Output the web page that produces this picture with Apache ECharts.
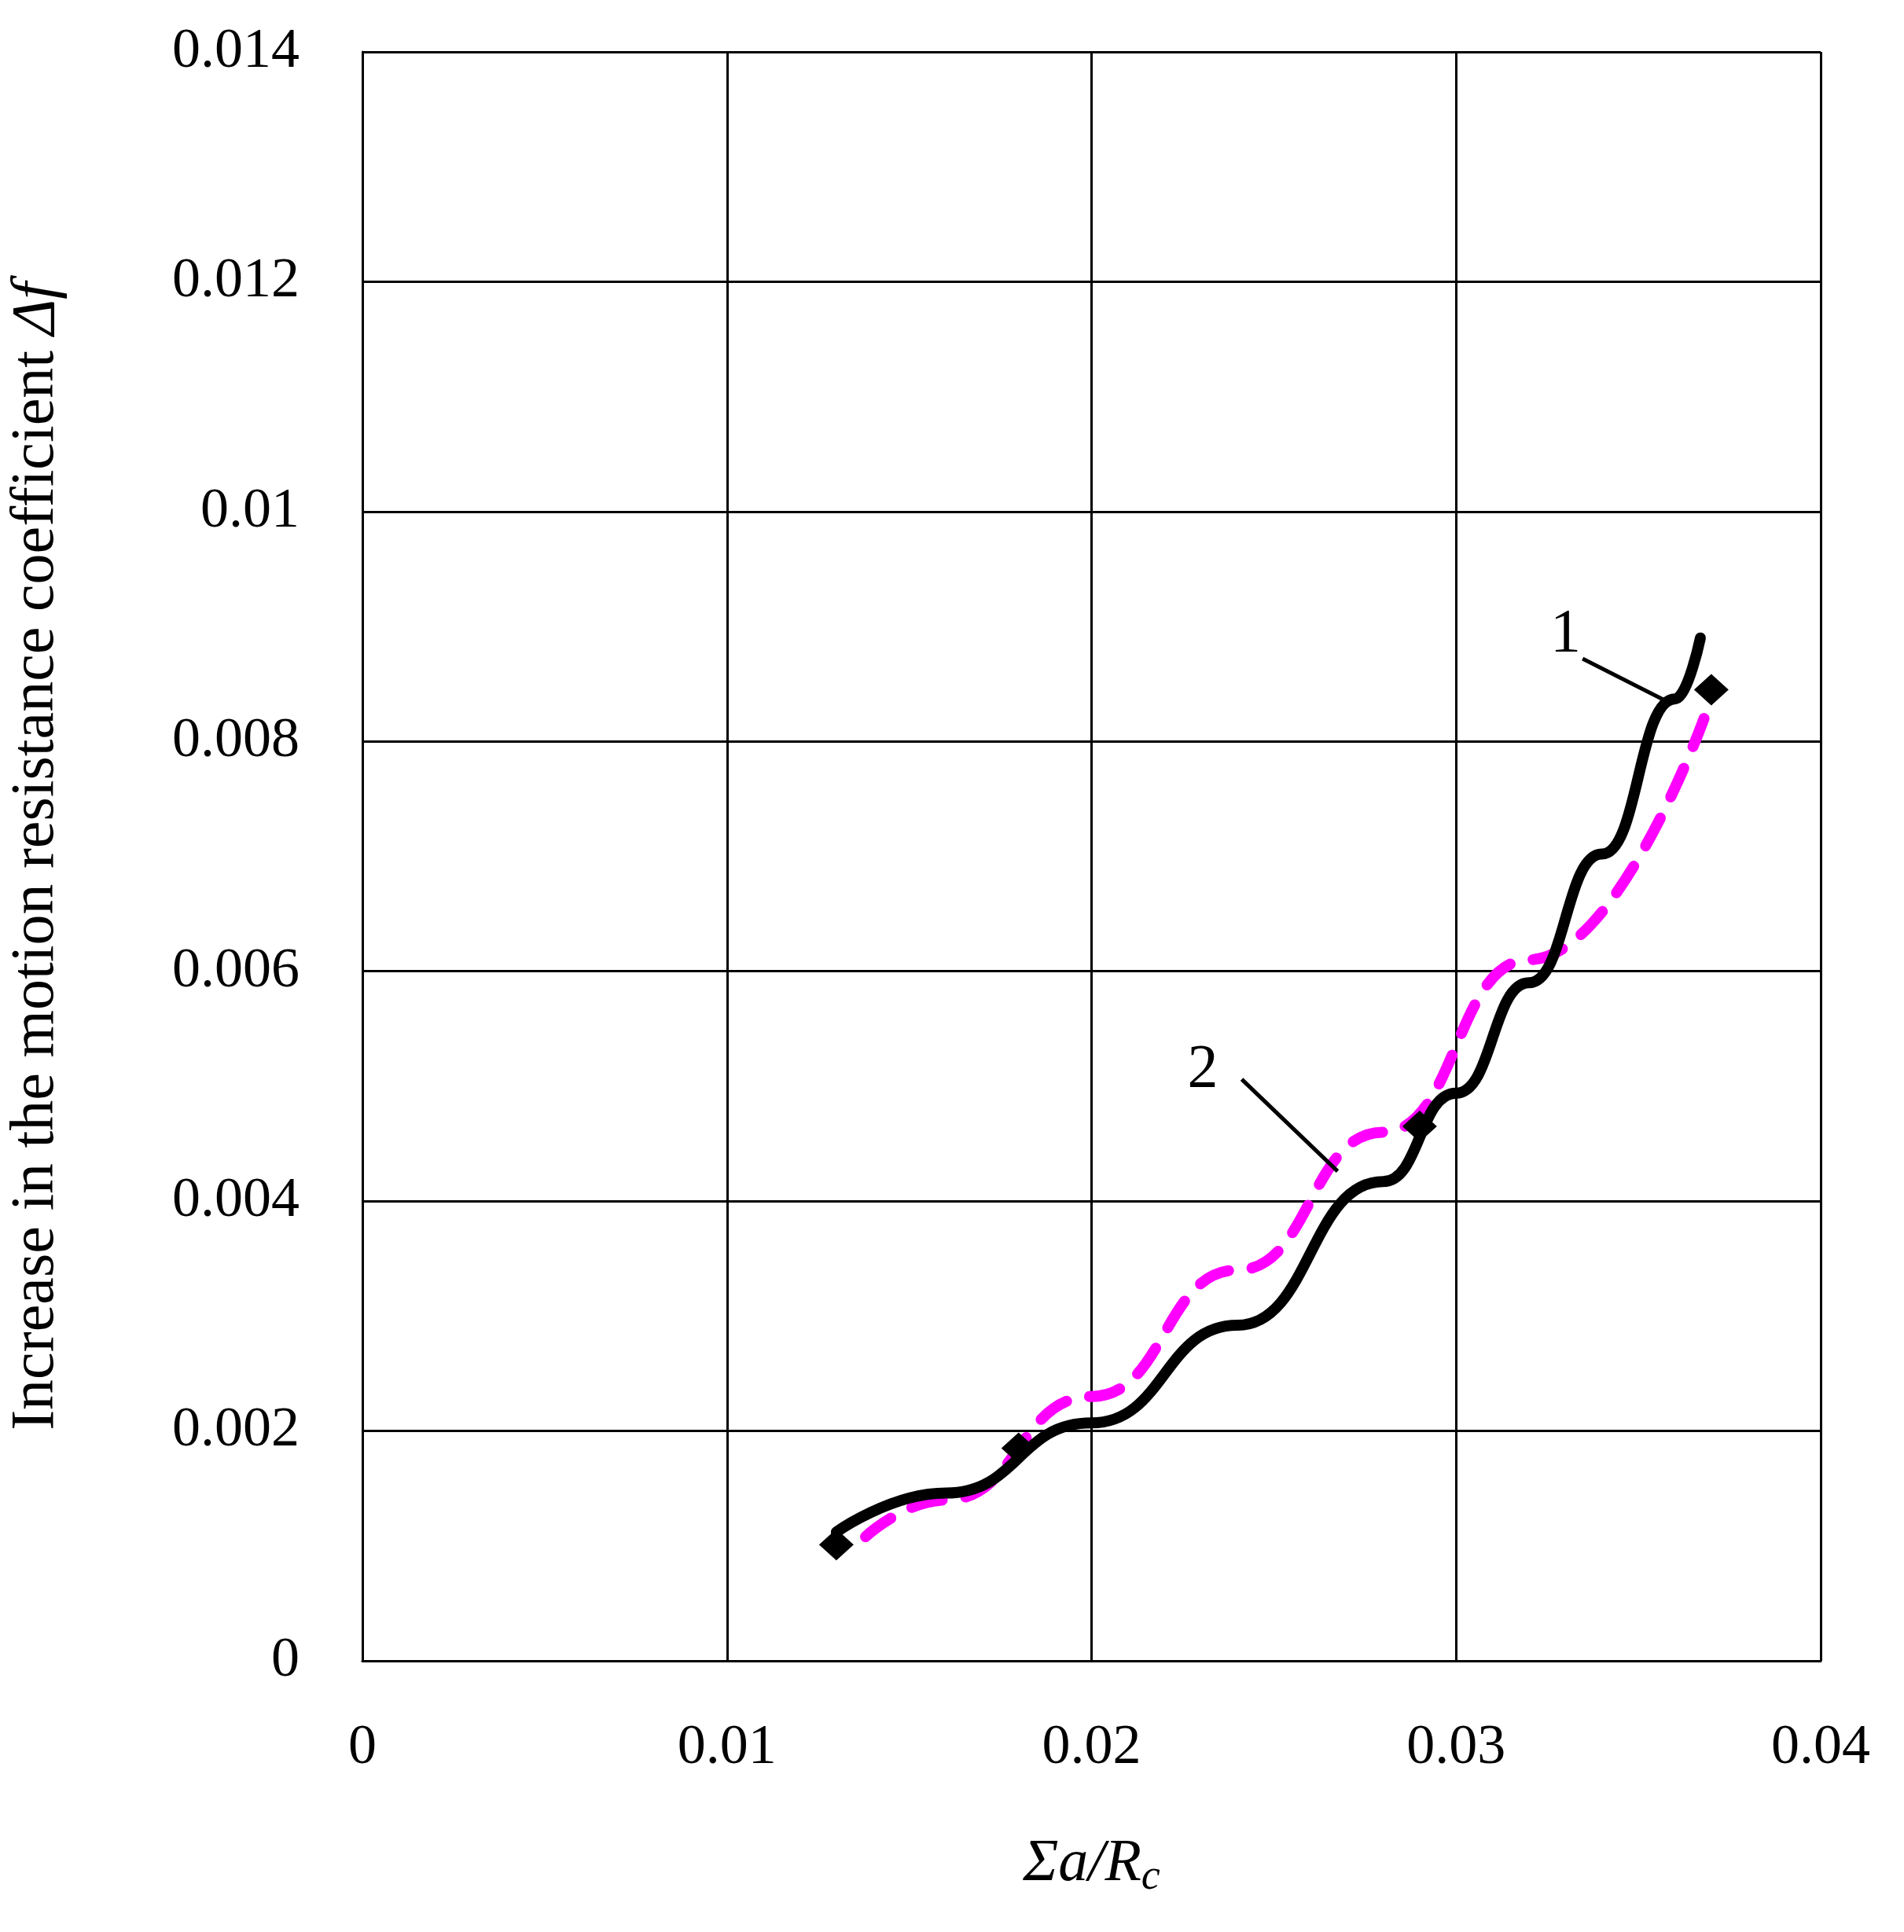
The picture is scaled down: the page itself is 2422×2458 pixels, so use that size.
<!DOCTYPE html>
<html lang="en">
<head>
<meta charset="UTF-8">
<title>Chart</title>
<style>
  html, body { margin: 0; padding: 0; background: #fff; }
  #main { width: 2422px; height: 2458px; }
</style>
<script src="https://cdn.jsdelivr.net/npm/echarts@6/dist/echarts.min.js"></script>
</head>
<body>
<div id="main"></div>
<script>
// measured points
var pointsX = [0.013, 0.018, 0.029, 0.037];
var pointsY = [0.00101, 0.00185, 0.00465, 0.00845];
// curve 1 (solid black)
var curve1X = [0.013, 0.016, 0.020, 0.024, 0.028, 0.030, 0.032, 0.034, 0.036, 0.0367];
var curve1Y = [0.00112, 0.00146, 0.00207, 0.00292, 0.00417, 0.00494, 0.0059, 0.00702, 0.00837, 0.0089];
// curve 2 (dashed magenta)
var curve2X = [0.0138, 0.016, 0.020, 0.024, 0.028, 0.032, 0.0368];
var curve2Y = [0.00108, 0.0014, 0.0023, 0.0034, 0.0046, 0.0061, 0.0082];
// labels with leader lines
var labelText = ['1', '2'];
var labelPos = [[0.0330, 0.00893], [0.02305, 0.00514]];
var leaders = [
  [[0.03347, 0.00872], [0.03583, 0.00834]],
  [[0.02412, 0.00506], [0.02675, 0.00426]]
];

function zip(xs, ys) { return xs.map(function (x, i) { return [x, ys[i]]; }); }

var font = 'Liberation Serif';
var series = [
  { type: 'line', data: zip(curve2X, curve2Y), smooth: true, smoothMonotone: 'x', symbol: 'none',
    lineStyle: { color: '#ff00ff', width: 14, type: [40, 30], cap: 'round' }, z: 3 },
  { type: 'line', data: zip(curve1X, curve1Y), smooth: true, smoothMonotone: 'x', symbol: 'none',
    lineStyle: { color: '#000', width: 14, cap: 'round' }, z: 4 },
  { type: 'scatter', data: zip(pointsX, pointsY), symbol: 'diamond', symbolSize: [44, 40],
    itemStyle: { color: '#000', opacity: 1 }, z: 5 }
];
leaders.forEach(function (l) {
  series.push({ type: 'line', data: l, symbol: 'none', lineStyle: { color: '#000', width: 5 }, z: 6 });
});
series.push({
  type: 'scatter', symbolSize: 0, z: 7, itemStyle: { opacity: 1 },
  data: labelPos.map(function (p, i) { return { value: p, name: labelText[i] }; }),
  label: { show: true, formatter: '{b}', position: 'inside', fontFamily: font, fontSize: 78, color: '#000' }
});

var chart = echarts.init(document.getElementById('main'));
chart.setOption({
  animation: false,
  backgroundColor: '#fff',
  grid: { left: 460, right: 106, top: 66, bottom: 345 },
  xAxis: {
    type: 'value', min: 0, max: 0.04, interval: 0.01,
    name: '{i|Σa/R}{s|c}', nameLocation: 'middle', nameGap: 215,
    nameTextStyle: { rich: {
      i: { fontFamily: font, fontStyle: 'italic', fontSize: 76, color: '#000' },
      s: { fontFamily: font, fontStyle: 'italic', fontSize: 54, color: '#000', verticalAlign: 'bottom', padding: [34, 0, 0, 0] }
    } },
    axisLine: { lineStyle: { color: '#000', width: 3 } },
    axisTick: { show: false },
    axisLabel: { fontFamily: font, fontSize: 72, color: '#000', margin: 75,
      formatter: function (v) { return v === 0 ? '0' : String(+v.toFixed(2)); } },
    splitLine: { lineStyle: { color: '#000', width: 3 } }
  },
  yAxis: {
    type: 'value', min: 0, max: 0.014, interval: 0.002,
    name: 'Increase in the motion resistance coefficient {i|Δf}', nameLocation: 'middle', nameGap: 375,
    nameTextStyle: { fontFamily: font, fontSize: 78, color: '#000',
      rich: { i: { fontFamily: font, fontStyle: 'italic', fontSize: 78, color: '#000' } } },
    axisLine: { show: true, lineStyle: { color: '#000', width: 3 } },
    axisTick: { show: false },
    axisLabel: { fontFamily: font, fontSize: 72, color: '#000', margin: 80,
      formatter: function (v) { return v === 0 ? '0' : String(+v.toFixed(3)); } },
    splitLine: { lineStyle: { color: '#000', width: 3 } }
  },
  series: series
});
</script>
</body>
</html>
